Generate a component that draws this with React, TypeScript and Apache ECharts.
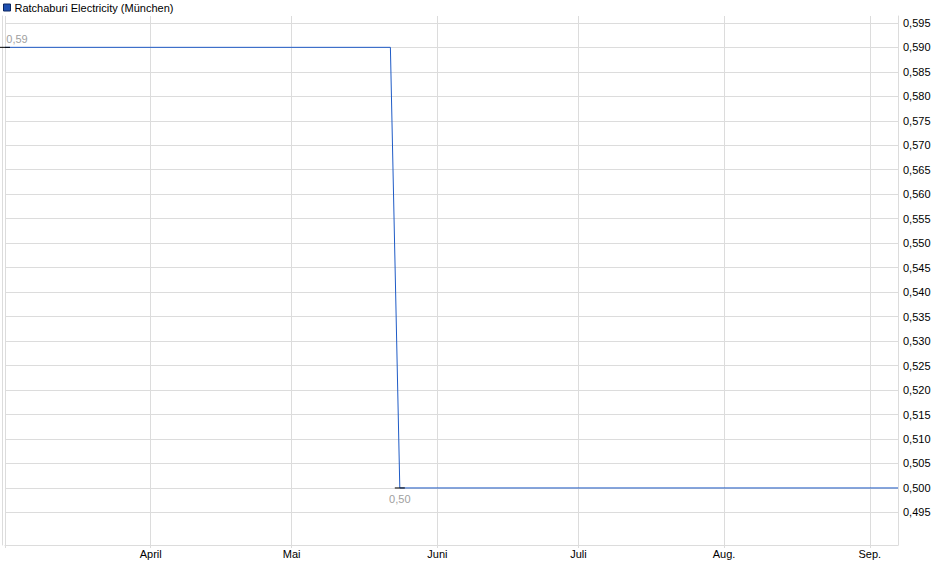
import { useEffect, useRef } from "react"
import * as echarts from "echarts"

const seriesName = "Ratchaburi Electricity (München)"

// price points (daily close, only where the price changed)
const priceDates = ["2024-03-01", "2024-05-22", "2024-05-24", "2024-09-07"]
const priceValues = [0.59, 0.59, 0.5, 0.5]

const xTickDates = ["2024-03-01", "2024-04-01", "2024-05-01", "2024-06-01", "2024-07-01", "2024-08-01", "2024-09-01"]
const xTickLabels = ["", "April", "Mai", "Juni", "Juli", "Aug.", "Sep."]

const yTicks = [
  0.495, 0.5, 0.505, 0.51, 0.515, 0.52, 0.525, 0.53, 0.535, 0.54, 0.545, 0.55, 0.555, 0.56, 0.565, 0.57,
  0.575, 0.58, 0.585, 0.59, 0.595,
]

const xMin = "2024-03-01"
const xMax = "2024-09-07"
const yMin = 0.48835
const yMax = 0.5964

const DAY = 86400000
const toDay = (d: string) => Date.UTC(+d.slice(0, 4), +d.slice(5, 7) - 1, +d.slice(8, 10)) / DAY
const comma = (v: number, d: number) => v.toFixed(d).replace(".", ",")

export default function App() {
  const chartRef = useRef<HTMLDivElement>(null)

  useEffect(() => {
    if (!chartRef.current) return
    const chart = echarts.init(chartRef.current, null, { renderer: "svg" })

    const tickDays = xTickDates.map(toDay)

    const option: echarts.EChartsOption = {
      animation: false,
      textStyle: { fontFamily: "Liberation Sans, Arial, sans-serif" },
      legend: {
        left: 3,
        top: 2,
        padding: 0,
        icon: "rect",
        itemWidth: 7,
        itemHeight: 7,
        itemGap: 5,
        selectedMode: false,
        textStyle: { fontSize: 11, color: "#000", padding: [0, 0, 0, -1] },
        data: [
          {
            name: seriesName,
            itemStyle: { color: "#1e4fb0", borderColor: "#0c2660", borderWidth: 1 },
          },
        ],
      },
      grid: { left: 5, right: 42, top: 16, bottom: 34 },
      xAxis: {
        type: "value",
        min: toDay(xMin),
        max: toDay(xMax),
        axisLine: { show: true, lineStyle: { color: "#dcdcdc" } },
        axisTick: {
          show: true,
          length: 3,
          lineStyle: { color: "#dcdcdc" },
          customValues: tickDays,
        } as any,
        axisLabel: {
          color: "#000",
          fontSize: 11,
          margin: 3,
          customValues: tickDays,
          formatter: (v: number) => {
            const i = tickDays.indexOf(v)
            return i >= 0 ? xTickLabels[i] : ""
          },
        } as any,
        splitLine: { show: true, lineStyle: { color: "#dcdcdc" } },
      },
      yAxis: [
        {
          type: "value",
          position: "right",
          min: yMin,
          max: yMax,
          axisLine: { show: true, lineStyle: { color: "#dcdcdc" } },
          axisTick: { show: false, customValues: yTicks } as any,
          axisLabel: {
            color: "#000",
            fontSize: 11,
            margin: 5,
            customValues: yTicks,
            formatter: (v: number) => comma(v, 3),
          } as any,
          splitLine: { show: true, lineStyle: { color: "#dcdcdc" } },
        },
        {
          type: "value",
          position: "left",
          offset: 3,
          min: yMin,
          max: yMax,
          axisLine: { show: true, lineStyle: { color: "#dcdcdc" } },
          axisTick: { show: false },
          axisLabel: { show: false },
          splitLine: { show: false },
        },
      ],
      series: [
        {
          name: seriesName,
          type: "line",
          yAxisIndex: 0,
          data: priceDates.map((d, i) => [toDay(d), priceValues[i]]),
          showSymbol: false,
          symbol: "none",
          lineStyle: { color: "#1f5bc6", width: 1 },
          itemStyle: { color: "#1f5bc6" },
          markPoint: {
            symbol: "rect",
            symbolSize: [10, 1],
            itemStyle: { color: "#000" },
            label: {
              fontSize: 11,
              color: "#a0a0a0",
              formatter: (p: any) => comma(p.value, 2),
            },
            data: [
              { type: "max", label: { position: "top", distance: 2, offset: [12, 0] } },
              { type: "min", label: { position: "bottom", distance: 5, offset: [0, 0] } },
            ],
          },
        },
      ],
    }

    chart.setOption(option)
    return () => chart.dispose()
  }, [])

  return (
    <div
      ref={chartRef}
      style={{ position: "fixed", left: 0, top: 0, width: 940, height: 579, background: "#fff" }}
    />
  )
}
